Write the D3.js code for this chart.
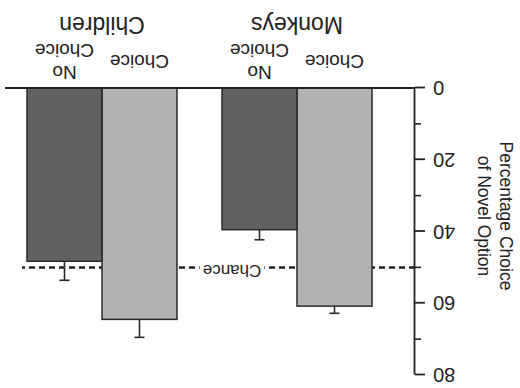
<!DOCTYPE html>
<html>
<head>
<meta charset="utf-8">
<script src="https://cdn.jsdelivr.net/npm/d3@7"></script>
<style>
  html, body { margin: 0; padding: 0; background: #fff; }
  svg { display: block; }
  text { font-family: "Liberation Sans", Arial, Helvetica, sans-serif; fill: #222; }
</style>
</head>
<body>
<svg id="chart" width="520" height="388"></svg>
<script>
// ---- data ----
const groups = ["Monkeys", "Children"];
const conditions = ["Choice", "No Choice"];
const conditionLabels = [["Choice"], ["No", "Choice"]];
const monkeysValues = [60.8, 39.5];
const monkeysErrors = [2.0, 2.8];
const childrenValues = [64.5, 48.3];
const childrenErrors = [5.0, 5.3];
const yTicks = [0, 20, 40, 60, 80];
const yMinorTicks = [10, 30, 50, 70];
const chanceLevel = 50;
const chanceLabel = "Chance";
const yTitle = ["Percentage Choice", "of Novel Option"];

const seriesValues = { Monkeys: monkeysValues, Children: childrenValues };
const seriesErrors = { Monkeys: monkeysErrors, Children: childrenErrors };
const rows = [];
groups.forEach(g => conditions.forEach((c, i) => rows.push({
  group: g, cond: c, label: conditionLabels[i],
  value: seriesValues[g][i], err: seriesErrors[g][i]
})));

// ---- layout ----
const W = 520, H = 388;
const axisX = 105;
const FONT = "\"Liberation Sans\", Arial, Helvetica, sans-serif";
const svg = d3.select("#chart");
svg.append("rect").attr("width", W).attr("height", H).attr("fill", "#fff");

// the reference is printed upside down: draw normally, then rotate 180deg
const g = svg.append("g").attr("transform", `rotate(180,${W / 2},${H / 2})`);

const y = d3.scaleLinear().domain([0, 80]).range([300, 13]);
const x0 = d3.scaleBand().domain(groups).range([148, 493]).paddingInner(0.2308).paddingOuter(0);
const x1 = d3.scaleBand().domain(conditions).range([0, x0.bandwidth()]).padding(0);
const fills = { "Choice": "#b2b2b2", "No Choice": "#616161" };

// chance line (drawn first, bars cover it)
const chanceG = g.append("g");
chanceG.append("line")
  .attr("x1", axisX).attr("x2", 498)
  .attr("y1", y(chanceLevel)).attr("y2", y(chanceLevel))
  .attr("stroke", "#222").attr("stroke-width", 2.5)
  .attr("stroke-dasharray", "6,4");
const chanceX = x0("Monkeys") + x0.bandwidth() - 10;
const chanceBg = chanceG.append("rect").attr("fill", "#fff");
const ct = chanceG.append("text")
  .attr("x", chanceX).attr("y", y(chanceLevel) + 2)
  .style("text-anchor", "middle")
  .style("font-family", FONT)
  .style("font-size", "17px")
  .text(chanceLabel);
const bb = ct.node().getBBox();
chanceBg.attr("x", bb.x - 3).attr("y", y(chanceLevel) - 3)
  .attr("width", bb.width + 6).attr("height", 6);

// bars
const barG = g.append("g");
barG.selectAll("rect.bar").data(rows).join("rect")
  .attr("class", "bar")
  .attr("x", d => x0(d.group) + x1(d.cond))
  .attr("y", d => y(d.value))
  .attr("width", x1.bandwidth())
  .attr("height", d => y(0) - y(d.value))
  .attr("fill", d => fills[d.cond])
  .attr("stroke", "#2a2a2a").attr("stroke-width", 1.5);

// error bars
const errG = g.append("g").attr("stroke", "#2a2a2a").attr("stroke-width", 1.6);
rows.forEach(d => {
  const cx = x0(d.group) + x1(d.cond) + x1.bandwidth() / 2;
  errG.append("line").attr("x1", cx).attr("x2", cx)
    .attr("y1", y(d.value)).attr("y2", y(d.value + d.err));
  errG.append("line").attr("x1", cx - 5).attr("x2", cx + 5)
    .attr("y1", y(d.value + d.err)).attr("y2", y(d.value + d.err));
});

// baseline
g.append("line")
  .attr("x1", axisX).attr("x2", 515)
  .attr("y1", y(0)).attr("y2", y(0))
  .attr("stroke", "#222").attr("stroke-width", 2.2);

// y axis
const axG = g.append("g").attr("transform", `translate(${axisX},0)`)
  .call(d3.axisLeft(y).tickValues(yTicks).tickSize(10).tickSizeOuter(0).tickPadding(8));
axG.attr("font-size", null).attr("font-family", null);
axG.select(".domain").attr("stroke", "#222").attr("stroke-width", 1.8);
axG.selectAll(".tick line").attr("stroke", "#222").attr("stroke-width", 1.8);
axG.selectAll(".tick text")
  .style("font-size", "20px")
  .style("font-family", FONT)
  .attr("fill", "#222");
axG.selectAll("line.minor").data(yMinorTicks).join("line")
  .attr("class", "minor")
  .attr("x1", 0).attr("x2", -6)
  .attr("y1", d => y(d)).attr("y2", d => y(d))
  .attr("stroke", "#222").attr("stroke-width", 1.6);

// axis title
yTitle.forEach((t, i) => {
  g.append("text")
    .attr("transform", `translate(${20 + i * 22},172) rotate(-90)`)
    .style("text-anchor", "middle")
    .style("font-family", FONT)
    .style("font-size", "17.5px")
    .text(t);
});

// group labels
g.selectAll("text.group").data(groups).join("text")
  .attr("class", "group")
  .attr("x", d => x0(d) + x0.bandwidth() / 2)
  .attr("y", 371)
  .style("text-anchor", "middle")
  .style("font-family", FONT)
  .style("font-size", "23px")
  .text(d => d);

// condition labels
rows.forEach(d => {
  const cx = x0(d.group) + x1(d.cond) + x1.bandwidth() / 2;
  const t = g.append("text")
    .style("text-anchor", "middle")
    .style("font-family", FONT)
    .style("font-size", "19px");
  const n = d.label.length;
  d.label.forEach((line, i) => {
    t.append("tspan").attr("x", cx)
      .attr("y", 333 + (i - (n - 1) / 2) * 22)
      .text(line);
  });
});
</script>
</body>
</html>
